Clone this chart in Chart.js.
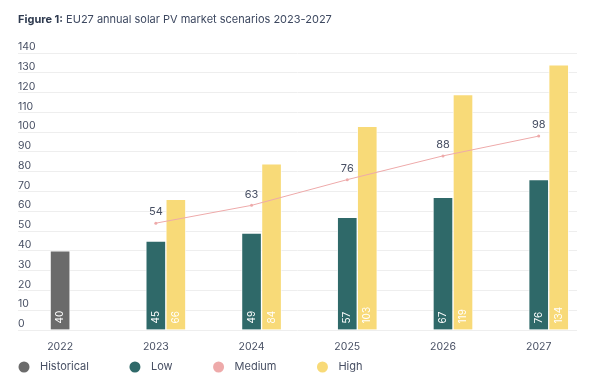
<!DOCTYPE html>
<html>
<head>
<meta charset="utf-8">
<script src="https://cdn.jsdelivr.net/npm/chart.js@4.4.1/dist/chart.umd.min.js"></script>
<style>
    html, body { margin: 0; padding: 0; background: #fff; }
    #wrap { width: 600px; height: 387px; }
</style>
</head>
<body>
<div id="wrap"><canvas id="solarChart" width="600" height="387"></canvas></div>
<script>
const years = [2022, 2023, 2024, 2025, 2026, 2027];
const historical = [40, null, null, null, null, null];
const low = [null, 45, 49, 57, 67, 76];
const medium = [null, 54, 63, 76, 88, 98];
const high = [null, 66, 84, 103, 119, 134];

const textColor = '#474f63';
const fontFamily = 'Inter, "Noto Sans", sans-serif';

const toPoints = arr => years.map((yr, i) => ({ x: yr, y: arr[i] }));

// draws the numbers inside bars and above the line points
const valueLabels = {
    id: 'valueLabels',
    afterDatasetsDraw(chart) {
        const ctx = chart.ctx;
        chart.data.datasets.forEach((ds, di) => {
            if (ds.spacer) return;
            const meta = chart.getDatasetMeta(di);
            meta.data.forEach((el, i) => {
                const v = ds.data[i].y;
                if (v === null) return;
                ctx.save();
                if (ds.type === 'line') {
                    ctx.font = '11px ' + fontFamily;
                    ctx.fillStyle = textColor;
                    ctx.textAlign = 'center';
                    ctx.textBaseline = 'middle';
                    ctx.fillText(v, el.x, el.y - 11);
                } else {
                    ctx.translate(el.x, el.base - 6);
                    ctx.rotate(-Math.PI / 2);
                    ctx.font = '10px ' + fontFamily;
                    ctx.fillStyle = '#ffffff';
                    ctx.textAlign = 'left';
                    ctx.textBaseline = 'middle';
                    ctx.fillText(v, 0, 0);
                }
                ctx.restore();
            });
        });
    }
};

// title on top, legend at the bottom
const titleAndLegend = {
    id: 'titleAndLegend',
    afterDraw(chart) {
        const ctx = chart.ctx;
        ctx.save();
        ctx.textBaseline = 'middle';
        ctx.textAlign = 'left';
        ctx.font = 'bold 11px ' + fontFamily;
        ctx.fillStyle = '#2e3a4f';
        ctx.fillText('Figure 1:', 18, 20);
        const w = ctx.measureText('Figure 1:').width;
        ctx.font = '11px ' + fontFamily;
        ctx.fillStyle = '#3d4860';
        ctx.fillText(' EU27 annual solar PV market scenarios 2023-2027', 18 + w, 20);

        let x = 24;
        const y = 367;
        chart.data.datasets.forEach(ds => {
            if (ds.spacer) return;
            ctx.beginPath();
            ctx.arc(x, y, 5.5, 0, Math.PI * 2);
            ctx.fillStyle = ds.legendColor;
            ctx.fill();
            ctx.fillStyle = textColor;
            ctx.font = '11px ' + fontFamily;
            ctx.fillText(ds.label, x + 16, y);
            x += 16 + ctx.measureText(ds.label).width + 46;
        });
        ctx.restore();
    }
};

const barCommon = {
    type: 'bar',
    barThickness: 20,
    borderWidth: 1,
    borderColor: 'rgba(255,255,255,0.7)',
    order: 1
};

new Chart(document.getElementById('solarChart'), {
    data: {
        datasets: [
            // empty slot so the Low bar sits on the year and High sits to its right
            Object.assign({}, barCommon, { label: '', spacer: true, data: [], stack: 'slot0' }),
            Object.assign({}, barCommon, {
                label: 'Historical', data: toPoints(historical), stack: 'main',
                backgroundColor: '#6b6b6b', legendColor: '#6b6b6b'
            }),
            Object.assign({}, barCommon, {
                label: 'Low', data: toPoints(low), stack: 'main',
                backgroundColor: '#2f6969', legendColor: '#2f6969'
            }),
            {
                type: 'line',
                label: 'Medium',
                data: toPoints(medium),
                borderColor: '#eeaaaa',
                backgroundColor: '#eeaaaa',
                legendColor: '#eeaaaa',
                borderWidth: 1,
                pointRadius: 1.5,
                pointBorderWidth: 0,
                tension: 0,
                order: 0
            },
            Object.assign({}, barCommon, {
                label: 'High', data: toPoints(high), stack: 'hi',
                backgroundColor: '#f8da78', legendColor: '#f8da78'
            })
        ]
    },
    options: {
        responsive: false,
        animation: false,
        layout: { padding: { left: 18, right: 23, top: 53, bottom: 37 } },
        plugins: {
            legend: { display: false },
            tooltip: { enabled: false }
        },
        scales: {
            x: {
                type: 'linear',
                bounds: 'data',
                offset: false,
                min: 2021.56,
                max: 2027.4,
                grid: { display: false },
                border: { display: false },
                afterFit: s => { s.height = 20; },
                afterBuildTicks: s => { s.ticks = years.map(v => ({ value: v })); },
                ticks: {
                    autoSkip: false,
                    maxRotation: 0,
                    padding: 3,
                    color: textColor,
                    font: { family: fontFamily, size: 10.5 },
                    callback: v => String(v)
                }
            },
            y: {
                min: 0,
                max: 140,
                afterFit: s => { s.width = 0; },
                grid: { color: '#eeeeee', drawTicks: false },
                border: { display: false },
                ticks: {
                    stepSize: 10,
                    mirror: true,
                    padding: 0,
                    labelOffset: -6,
                    color: textColor,
                    font: { family: fontFamily, size: 10.5 }
                }
            }
        }
    },
    plugins: [valueLabels, titleAndLegend]
});
</script>
</body>
</html>
